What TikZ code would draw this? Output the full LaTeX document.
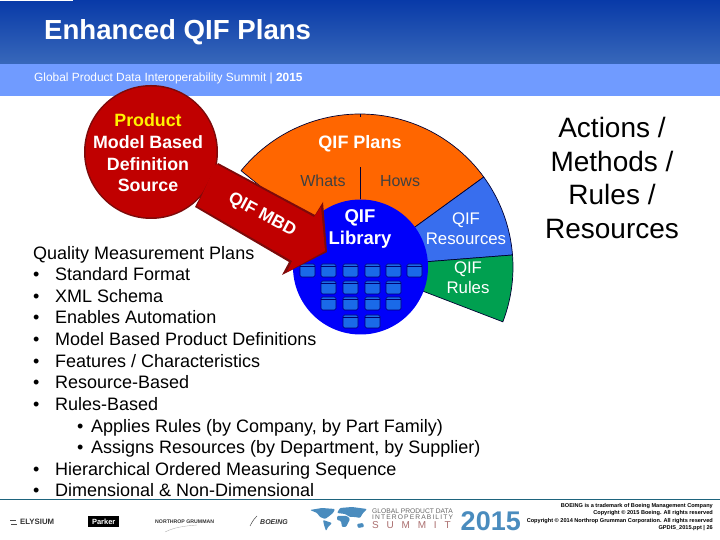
\documentclass[tikz,border=0pt]{standalone}
\usepackage{fontspec}
\setmainfont{Liberation Sans}
\usetikzlibrary{positioning}
\definecolor{headtop}{RGB}{8,58,168}
\definecolor{headlow}{RGB}{56,104,186}
\definecolor{bandblue}{RGB}{112,155,255}
\definecolor{mbdred}{RGB}{192,0,0}
\definecolor{mbddark}{RGB}{125,10,10}
\definecolor{planorange}{RGB}{255,102,0}
\definecolor{resblue}{RGB}{56,110,238}
\definecolor{rulegreen}{RGB}{0,160,80}
\definecolor{libblue}{RGB}{0,0,250}
\definecolor{folderblue}{RGB}{26,106,232}
\definecolor{summitblue}{RGB}{74,140,190}
\definecolor{summitpink}{RGB}{170,110,110}
\definecolor{footline}{RGB}{30,100,125}
\tikzset{
  wedgeline/.style={draw=black!80!blue,line width=0.7pt},
  folderbox/.style={fill=folderblue,draw=libblue!45!black,line width=0.6pt,rounded corners=1.5pt,
    path picture={\draw[libblue!45!black,line width=0.6pt] ([yshift=-2.5pt]path picture bounding box.north west) -- ([yshift=-2.5pt]path picture bounding box.north east);}},
  listtext/.style={anchor=base west,inner sep=0pt,font=\fontsize{18}{20}\selectfont},
  disctext/.style={align=center,inner sep=0pt,font=\fontsize{18.5}{21.6}\selectfont\bfseries,text=white},
  fantext/.style={align=center,inner sep=0pt,font=\fontsize{16.8}{20}\selectfont,text=white},
  whattext/.style={inner sep=0pt,text=black!75,font=\fontsize{16}{18}\selectfont},
  tinytext/.style={anchor=east,inner sep=0pt,font=\fontsize{5.6}{6}\selectfont\bfseries},
  summittext/.style={inner sep=0pt,text=black!60,font=\fontsize{6.7}{7}\selectfont},
  maplobe/.style={fill=summitblue,draw=none,rounded corners=1pt}
}
\begin{document}
\begin{tikzpicture}[x=1pt,y=1pt]
  \useasboundingbox (0,0) rectangle (720,540);
  % header
  \fill[top color=headtop,bottom color=headlow] (0,476) rectangle (720,540);
  \fill[white] (0,539) rectangle (73,540);
  \fill[bandblue] (0,444) rectangle (720,476);
  \node[anchor=west,inner sep=0pt,text=white,font=\fontsize{27.6}{30}\selectfont\bfseries] (title) at (44,508) {Enhanced QIF Plans};
  \node[anchor=west,inner sep=0pt,text=white,font=\fontsize{11.9}{14}\selectfont] (subtitle) at (34,462) {Global Product Data Interoperability Summit | \textbf{2015}};
  % fan
  \fill[planorange,wedgeline] (360,273) -- ++(141:153) arc (141:36:153) -- cycle;
  \fill[resblue,wedgeline] (360,273) -- ++(36:153) arc (36:4.5:153) -- cycle;
  \fill[rulegreen,wedgeline] (360,273) -- ++(4.5:153) arc (4.5:-21:153) -- cycle;
  \draw[wedgeline] (360,426) -- (360,423);
  \draw[wedgeline] (360,341) -- (360,373);
  \node[inner sep=0pt,text=white,font=\fontsize{18}{20}\selectfont\bfseries] (plans) at (360,396) {QIF Plans};
  \node[whattext] (whats) at (323,359) {Whats};
  \node[whattext] (hows) at (400,359) {Hows};
  \node[fantext] (resources) at (466,311) {QIF\\Resources};
  \node[fantext] (rules) at (468,262) {QIF\\Rules};
  % library disc
  \fill[libblue] (360.5,273) circle (67.5);
  \node[disctext] (library) at (360,311) {QIF\\Library};
  \fill[folderbox] (300,263) rectangle ++(15,13);
  \fill[folderbox] (321,263) rectangle ++(15,13);
  \fill[folderbox] (343,263) rectangle ++(15,13);
  \fill[folderbox] (365,263) rectangle ++(15,13);
  \fill[folderbox] (386,263) rectangle ++(15,13);
  \fill[folderbox] (407,263) rectangle ++(15,13);
  \fill[folderbox] (321,246) rectangle ++(15,13);
  \fill[folderbox] (343,246) rectangle ++(15,13);
  \fill[folderbox] (365,246) rectangle ++(15,13);
  \fill[folderbox] (386,246) rectangle ++(15,13);
  \fill[folderbox] (321,230) rectangle ++(15,13);
  \fill[folderbox] (343,230) rectangle ++(15,13);
  \fill[folderbox] (365,230) rectangle ++(15,13);
  \fill[folderbox] (386,230) rectangle ++(15,13);
  \fill[folderbox] (343,212) rectangle ++(15,13);
  \fill[folderbox] (365,212) rectangle ++(15,13);
  % model based definition source
  \fill[mbddark] (151,388) circle (67);
  \fill[mbdred] (151,388) circle (65.5);
  \fill[mbddark] (218,377) -- (315,325) -- (323,338) -- (327,288) -- (282,265) -- (289,278) -- (195,333) -- cycle;
  \fill[mbdred] (216,376) -- (314,323) -- (321,333) -- (325,289) -- (287,268) -- (292,279) -- (197,334) -- cycle;
  \node[disctext,font=\fontsize{17.8}{21.6}\selectfont\bfseries] (source) at (148,387) {\textcolor{yellow}{Product}\\Model Based\\Definition\\Source};
  \node[inner sep=0pt,rotate=-28,text=white,font=\fontsize{17.5}{20}\selectfont\bfseries] (mbd) at (262,325) {QIF MBD};
  % right hand text
  \node[align=center,inner sep=0pt,font=\fontsize{28}{33.4}\selectfont] (actions) at (612,362) {Actions /\\Methods /\\Rules /\\Resources};
  % list
  \node[listtext] (head) at (33,280) {Quality Measurement Plans};
  \node[listtext] (bullet1) at (33,259) {•}; \node[listtext] (item1) at (55,259) {Standard Format};
  \node[listtext] (bullet2) at (33,237) {•}; \node[listtext] (item2) at (55,237) {XML Schema};
  \node[listtext] (bullet3) at (33,216) {•}; \node[listtext] (item3) at (55,216) {Enables Automation};
  \node[listtext] (bullet4) at (33,194) {•}; \node[listtext] (item4) at (55,194) {Model Based Product Definitions};
  \node[listtext] (bullet5) at (33,172) {•}; \node[listtext] (item5) at (55,172) {Features / Characteristics};
  \node[listtext] (bullet6) at (33,151) {•}; \node[listtext] (item6) at (55,151) {Resource-Based};
  \node[listtext] (bullet7) at (33,129) {•}; \node[listtext] (item7) at (55,129) {Rules-Based};
  \node[listtext] (bullet8) at (77,107) {•}; \node[listtext] (item8) at (91,107) {Applies Rules (by Company, by Part Family)};
  \node[listtext] (bullet9) at (77,86) {•}; \node[listtext] (item9) at (91,86) {Assigns Resources (by Department, by Supplier)};
  \node[listtext] (bullet10) at (33,64) {•}; \node[listtext] (item10) at (55,64) {Hierarchical Ordered Measuring Sequence};
  \node[listtext] (bullet11) at (33,43) {•}; \node[listtext] (item11) at (55,43) {Dimensional \& Non-Dimensional};
  % footer
  \draw[footline,line width=0.8pt] (0,41) -- (720,41);
  \draw[black!70,line width=0.5pt] (10,20) -- (16,20) (11,16) -- (17,16);
  \node[anchor=west,inner sep=0pt,font=\fontsize{7.8}{10}\selectfont\bfseries,text=black!80] (elysium) at (20,18) {ELYSIUM};
  \node[anchor=west,fill=black,text=white,inner sep=0pt,minimum width=31pt,minimum height=11pt,font=\fontsize{7.5}{8}\selectfont\bfseries] (parker) at (88,18.5) {Parker};
  \node[anchor=west,inner sep=0pt,font=\fontsize{5.2}{6}\selectfont\bfseries,text=black!80] (northrop) at (155,18) {NORTHROP GRUMMAN};
  \draw[black!30,line width=0.4pt] (165,8) .. controls (175,13) and (185,14) .. (197,15);
  \draw[black!70,line width=0.5pt] (250,14) .. controls (253,20) and (255,22) .. (257,24);
  \node[anchor=west,inner sep=0pt,font=\fontsize{7}{8}\selectfont\bfseries\itshape,text=black!80] (boeing) at (260,18) {BOEING};
  % world map
  \fill[maplobe] (310,30) -- (322,32) -- (335,31) -- (333,27) -- (328,23) -- (325,21) -- (320,23) -- (317,27) -- cycle;
  \fill[maplobe] (323,20) -- (332,17) -- (328,13) -- (326,9) -- (324,15) -- cycle;
  \fill[maplobe] (337,27) -- (340,32) -- (352,33) -- (367,31) -- (363,27) -- (360,22) -- (355,23) -- (350,23) -- (345,26) -- cycle;
  \fill[maplobe] (337,24) -- (347,24) -- (350,21) -- (346,13) -- (342,13) -- (341,19) -- (337,20) -- cycle;
  \fill[maplobe] (357,16) -- (363,17) -- (364,13) -- (358,12) -- cycle;
  \node[summittext,anchor=west] (global) at (372,29) {GLOBAL PRODUCT DATA};
  \node[summittext,below=0.8pt of global.south west,anchor=north west] (interop) {I\,N\,T\,E\,R\,O\,P\,E\,R\,A\,B\,I\,L\,I\,T\,Y};
  \node[summittext,below=1.5pt of interop.south west,anchor=north west,text=summitpink,font=\fontsize{10}{11}\selectfont] (summit) {S\hspace{7.8pt}U\hspace{7.8pt}M\hspace{7.8pt}M\hspace{7.8pt}I\hspace{7.8pt}T};
  \node[anchor=east,inner sep=0pt,text=summitblue,font=\fontsize{27}{30}\selectfont\bfseries] (year) at (521,19) {2015};
  \node[tinytext] (note1) at (713,34) {BOEING is a trademark of Boeing Management Company};
  \node[tinytext] (note2) at (713,27) {Copyright © 2015 Boeing. All rights reserved};
  \node[tinytext] (note3) at (713,19) {Copyright © 2014 Northrop Grumman Corporation. All rights reserved};
  \node[tinytext] (note4) at (713,12) {GPDIS\_2015.ppt | 26};
\end{tikzpicture}
\end{document}
